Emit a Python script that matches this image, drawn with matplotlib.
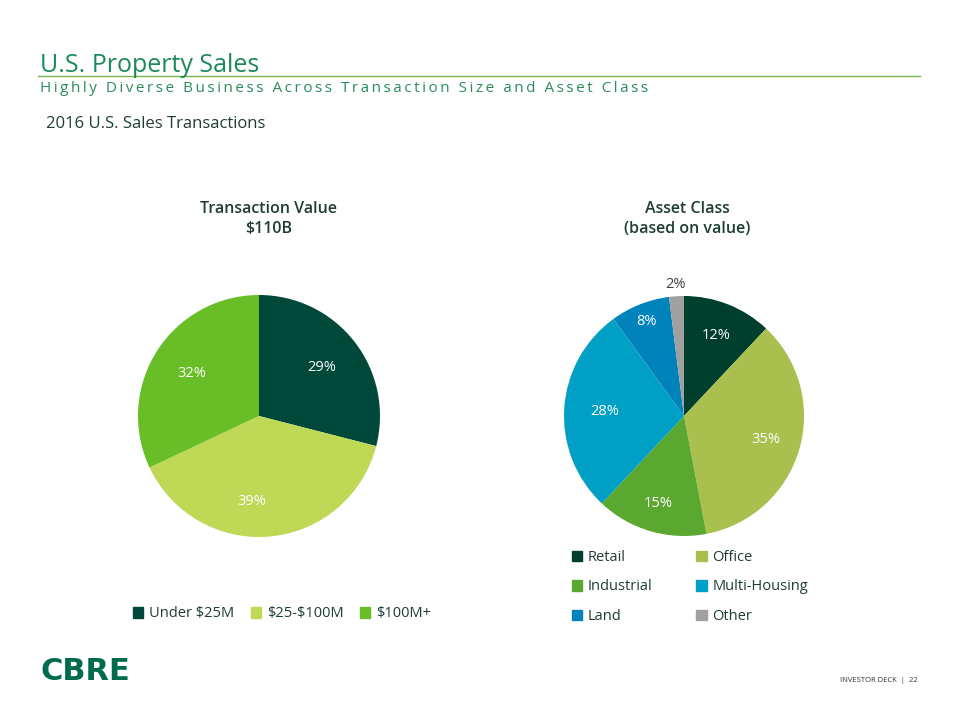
import numpy as np
import matplotlib.pyplot as plt
from matplotlib.patches import Patch
from matplotlib.lines import Line2D

plt.rcParams['font.family'] = ['Open Sans', 'DejaVu Sans']

# data
size_labels = ["Under \\$25M", "\\$25-\\$100M", "\\$100M+"]
size_values = [29, 39, 32]
size_colors = ["#00483A", "#BFD957", "#69BE28"]

asset_labels = ["Retail", "Office", "Industrial", "Multi-Housing", "Land", "Other"]
asset_values = [12, 35, 15, 28, 8, 2]
asset_colors = ["#003F2D", "#A9C04E", "#5AA830", "#00A0C6", "#0082BA", "#A0A0A0"]

W, H = 960, 720
fig = plt.figure(figsize=(9.6, 7.2), dpi=100)

def px_axes(cx, cy, r):
    return fig.add_axes([(cx - r) / W, (H - cy - r) / H, 2 * r / W, 2 * r / H])

def draw_pie(ax, values, colors, dists, shifts):
    wedges, _ = ax.pie(values, colors=colors, startangle=90, counterclock=False,
                       radius=1, wedgeprops=dict(linewidth=0))
    for w, v, d, s in zip(wedges, values, dists, shifts):
        ang = np.deg2rad((w.theta1 + w.theta2) / 2 + s)
        c = "white" if d < 1 else "#404040"
        ax.text(d * np.cos(ang), d * np.sin(ang), f"{v}%", ha='center', va='center',
                fontsize=10.5, color=c)
    ax.set_xlim(-1, 1)
    ax.set_ylim(-1, 1)
    ax.set_aspect('equal')
    ax.axis('off')
    return wedges

# left pie
ax1 = px_axes(259, 416, 121)
draw_pie(ax1, size_values, size_colors, [0.66, 0.71, 0.66], [0, -10, 0])
# right pie
ax2 = px_axes(684, 416, 120)
draw_pie(ax2, asset_values, asset_colors, [0.72, 0.71, 0.76, 0.66, 0.85, 1.1],
         [0, 0, 0, 0, 0, 0])

dark = "#1F3D36"
fig.text(269 / W, 1 - 219 / H, "Transaction Value\n$110B", ha='center', va='center',
         fontsize=11.5, color=dark, fontweight='semibold', linespacing=1.3)
fig.text(687 / W, 1 - 219 / H, "Asset Class\n(based on value)", ha='center', va='center',
         fontsize=11.5, color=dark, fontweight='semibold', linespacing=1.3)

# legends
h1 = [Patch(color=c, label=l) for c, l in zip(size_colors, size_labels)]
fig.legend(handles=h1, loc='center', bbox_to_anchor=(282 / W, 1 - 614 / H), ncol=3,
           frameon=False, fontsize=10.5, handlelength=0.7, handleheight=0.7,
           handletextpad=0.4, columnspacing=1.15, labelcolor=dark)
h2 = [Patch(color=c, label=l) for c, l in zip(asset_colors, asset_labels)]
# two columns, row-major
h2 = [h2[0], h2[2], h2[4], h2[1], h2[3], h2[5]]
fig.legend(handles=h2, loc='center', bbox_to_anchor=(690 / W, 1 - 587 / H), ncol=2,
           frameon=False, fontsize=10.5, handlelength=0.7, handleheight=0.7,
           handletextpad=0.4, columnspacing=3.0, labelspacing=1.0, labelcolor=dark)

# header
fig.text(40 / W, 1 - 65 / H, "U.S. Property Sales", fontsize=18, color="#1B8A5A",
         ha='left', va='center')
fig.add_artist(Line2D([38 / W, 920 / W], [1 - 76 / H, 1 - 76 / H], color="#7AB648", lw=1))
subtitle = "Highly Diverse Business Across Transaction Size and Asset Class"
fig.text(40 / W, 1 - 89 / H, "\u2009".join(subtitle), fontsize=11, color="#2A8C5C",
         ha='left', va='center')
fig.text(46 / W, 1 - 124 / H, "2016 U.S. Sales Transactions", fontsize=12, color=dark,
         ha='left', va='center')

# footer
fig.text(40 / W, 1 - 671 / H, "CBRE", fontsize=22, fontweight='heavy', color="#006A4D",
         ha='left', va='center', family='DejaVu Sans')
fig.text(918 / W, 1 - 681 / H, "INVESTOR DECK  |  22", fontsize=5.5, color="#333333",
         ha='right', va='center')

fig.savefig("out.png", dpi=100)
